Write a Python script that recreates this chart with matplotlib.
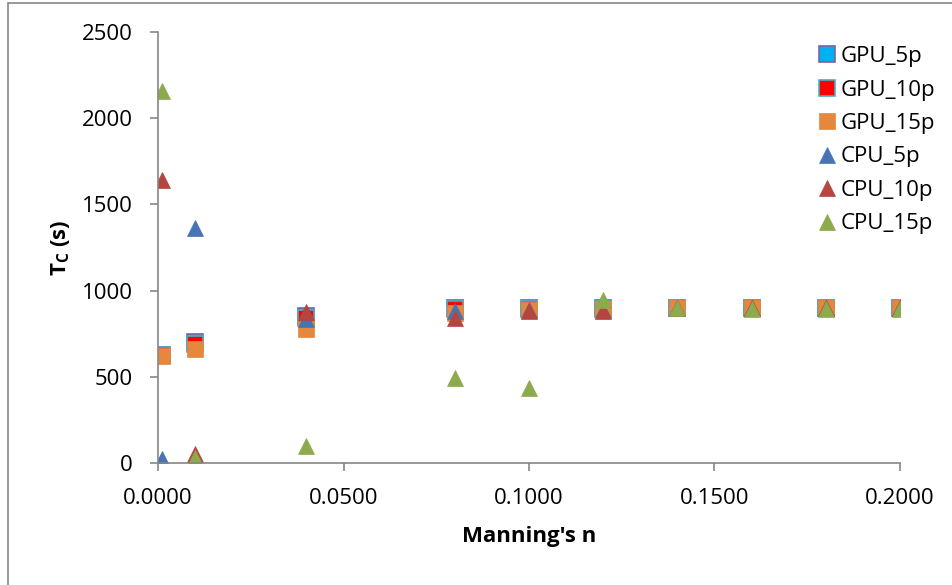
import matplotlib.pyplot as plt
from matplotlib.patches import Rectangle

# Manning's n values and time of concentration (s)
n = [0.001, 0.01, 0.04, 0.08, 0.10, 0.12, 0.14, 0.16, 0.18, 0.20]

gpu_5p = [625, 700, 850, 900, 900, 900, 900, 900, 900, 900]
gpu_10p = [625, 690, 840, 895, 895, 895, 900, 900, 900, 900]
gpu_15p = [620, 660, 775, 870, 885, 893, 900, 900, 900, 900]
cpu_5p = [25, 1365, 835, 880, 885, 890, 900, 900, 900, 900]
cpu_10p = [1642, 55, 875, 840, 880, 880, 900, 900, 900, 900]
cpu_15p = [2158, 30, 100, 495, 435, 945, 900, 895, 893, 893]

fig = plt.figure(figsize=(9.53, 5.85), dpi=100)
plt.rcParams['font.family'] = ['Open Sans', 'DejaVu Sans']
ax = fig.add_axes([158/953, 1 - 463/585, 742/953, 431/585])

ms = 11
ax.plot(n, gpu_5p, 's', ms=ms, mfc='#00B0F0', mec='#7F62A0', mew=1.2, label='GPU_5p')
ax.plot(n, gpu_10p, 's', ms=ms, mfc='#FF0000', mec='#4BACC6', mew=1.2, label='GPU_10p')
ax.plot(n, gpu_15p, 's', ms=ms, mfc='#E5873C', mec='#E5873C', mew=0.5, label='GPU_15p')
ax.plot(n, cpu_5p, '^', ms=ms, mfc='#4674B4', mec='#4674B4', mew=0.5, label='CPU_5p')
ax.plot(n, cpu_10p, '^', ms=ms, mfc='#B5463F', mec='#B5463F', mew=0.5, label='CPU_10p')
ax.plot(n, cpu_15p, '^', ms=ms, mfc='#8DAA4C', mec='#8DAA4C', mew=0.5, label='CPU_15p')

ax.set_xlim(0, 0.2)
ax.set_ylim(0, 2500)
ax.set_xticks([0, 0.05, 0.1, 0.15, 0.2])
ax.set_xticklabels(['0.0000', '0.0500', '0.1000', '0.1500', '0.2000'])
ax.set_yticks(range(0, 2501, 500))

for s in ['top', 'right']:
    ax.spines[s].set_visible(False)
for s in ['left', 'bottom']:
    ax.spines[s].set_color('#868686')
    ax.spines[s].set_linewidth(1.2)
ax.tick_params(axis='both', colors='#868686', length=6, width=1.2,
               labelsize=16, labelcolor='black', direction='out')
ax.tick_params(axis='x', pad=12)
ax.tick_params(axis='y', pad=12)

ax.set_xlabel("Manning's n", fontsize=16, fontweight='bold', labelpad=12)
ax.set_ylabel(r'T$_\mathregular{C}$ (s)', fontsize=16, fontweight='bold', labelpad=7)

leg = ax.legend(loc='upper left', bbox_to_anchor=(0.874, 0.988), frameon=False,
                fontsize=16, handletextpad=0.15, labelspacing=0.56,
                handlelength=1.0, borderaxespad=0)

# chart area border
fig.patches.append(Rectangle((8/953, -0.1), 1.2, 1.1 - 3/585, transform=fig.transFigure,
                             fill=False, edgecolor='#868686', lw=1.2))

fig.savefig('out.png', dpi=100)
